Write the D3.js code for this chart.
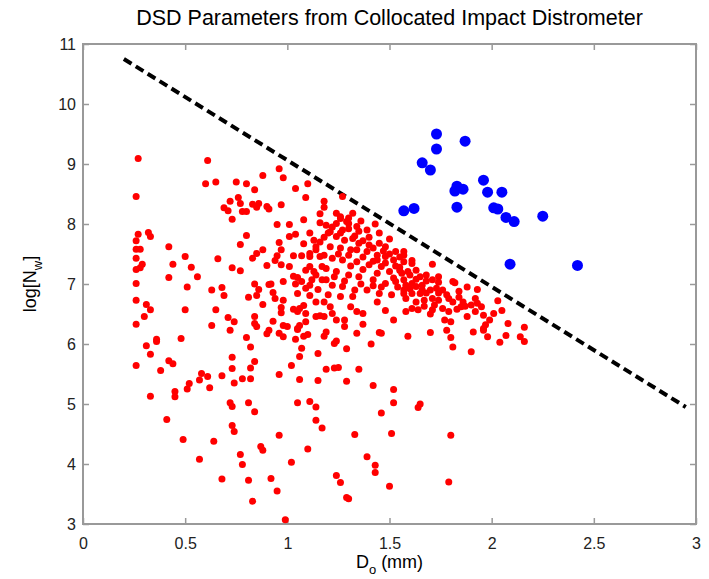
<!DOCTYPE html>
<html>
<head>
<meta charset="utf-8">
<script src="https://cdn.jsdelivr.net/npm/d3@7"></script>
<style>
body { margin: 0; background: #fff; }
text { font-family: "Liberation Sans", Arial, Helvetica, sans-serif; }
</style>
</head>
<body>
<div id="chart"></div>
<script>
// Basic setup
var width = 709,
    height = 579,
    margin = {top: 44, right: 13, bottom: 55, left: 83};

// Data: [D0 (mm), log Nw]
var redPoints = [
  [0.27,9.09],[0.26,8.46],[0.61,9.06],[0.60,8.67],[0.65,8.70],[0.75,8.70],[0.80,8.67],[0.88,8.81],[0.96,8.92],[0.98,8.77],
  [1.04,8.59],[1.10,8.67],[1.09,8.44],[0.84,8.57],[0.72,8.38],[0.76,8.44],[0.77,8.34],[0.69,8.27],[0.71,8.22],[0.73,8.08],
  [0.78,8.21],[0.80,8.21],[0.83,8.33],[0.86,8.34],[0.85,8.28],[0.91,8.25],[0.97,8.32],[1.18,8.38],[1.18,8.28],[1.16,8.17],
  [0.95,7.99],[1.01,7.99],[1.08,8.07],[1.16,8.02],[1.19,7.98],
  [0.27,7.83],[0.26,7.72],[0.32,7.86],[0.33,7.79],[0.26,7.58],[0.28,7.58],[0.26,7.43],[0.29,7.33],[0.28,7.27],[0.26,7.24],
  [0.26,7.01],[0.26,6.73],[0.31,6.66],[0.33,6.57],[0.30,6.46],[0.26,6.33],
  [0.42,7.62],[0.44,7.33],[0.42,7.11],[0.50,7.46],[0.53,7.28],[0.56,7.12],[0.51,6.95],[0.50,6.57],[0.66,7.42],[0.73,7.27],
  [0.77,7.22],[0.63,6.90],[0.68,6.94],[0.69,6.81],[0.65,6.57],[0.63,6.31],[0.71,6.44],[0.74,6.37],[0.72,6.23],
  [0.80,7.81],[0.77,7.66],[0.85,7.51],[0.83,7.43],[0.81,6.78],[0.84,7.00],[0.86,6.91],[0.85,6.81],[0.88,6.66],[0.84,6.46],
  [0.84,6.34],[0.90,7.31],[0.94,7.39],[0.95,7.47],[0.97,7.32],[0.96,7.69],[0.97,7.57],[1.01,7.79],[1.04,7.83],[1.03,7.47],
  [1.08,7.67],[1.11,7.85],
  [0.91,6.99],[0.92,7.00],[0.93,6.86],[0.94,6.76],[0.98,6.73],[0.97,6.61],[0.97,6.52],[0.93,6.38],[0.98,6.31],[1.03,7.13],
  [1.05,7.11],[1.04,7.00],[1.05,6.84],[1.07,7.04],[1.11,6.98],[1.11,6.81],[1.14,6.70],[1.15,6.91],[1.03,6.58],[1.08,6.64],
  [1.09,6.51],[1.09,6.37],[1.06,6.31],[1.05,6.24],[1.16,6.47],[1.18,6.46],[0.96,6.18],[0.91,6.23],[0.80,6.11],[0.48,6.09],
  [0.36,6.08],
  [1.11,7.29],[1.13,7.21],[1.14,7.15],[1.17,7.29],[1.18,7.48],[1.14,7.57],[1.16,7.70],[1.13,7.73],[1.11,7.51],[1.19,7.07],
  [1.20,7.85],
  [0.26,5.64],[0.31,5.97],[0.36,6.04],[0.33,5.83],[0.33,5.13],[0.38,5.56],[0.42,5.72],[0.44,5.67],[0.45,5.21],[0.45,5.12],
  [0.41,4.74],[0.51,5.25],[0.52,5.34],[0.57,5.40],[0.58,5.51],[0.61,5.46],[0.62,5.27],[0.68,5.47],[0.49,4.41],[0.57,4.08],
  [0.64,4.38],[0.68,3.75],[0.73,5.78],[0.73,5.59],[0.74,5.35],[0.72,5.02],[0.73,4.96],[0.73,4.64],[0.74,4.54],[0.77,4.16],
  [0.78,3.99],[0.81,3.73],[0.83,3.38],[0.78,5.42],[0.82,5.42],[0.82,5.60],[0.84,5.71],[0.82,5.95],[0.81,5.02],[0.84,4.87],
  [0.87,4.29],[0.88,4.23],[0.92,3.76],[0.95,3.55],[0.96,4.48],[0.96,5.49],[0.99,3.07],[1.02,4.03],[1.02,5.64],[1.05,5.02],
  [1.11,5.04],[1.14,4.95],[1.14,4.73],[1.17,4.60],[1.10,4.25],[1.06,5.41],[1.15,5.39],[1.15,5.84],[1.19,5.58],[1.06,5.79],
  [1.07,5.93],[1.04,6.08],[0.98,6.12],[0.90,6.17],[1.08,6.13],[1.10,6.16],[1.18,6.13],[1.23,6.01],[1.24,6.05],[1.29,5.92],
  [1.23,5.60],[1.25,5.61],[1.29,5.38],[1.35,5.58],[1.41,6.00],[1.46,6.18],[1.59,6.13],[1.70,6.19],[1.42,5.31],[1.52,5.24],
  [1.52,5.02],[1.46,4.85],[1.51,4.51],[1.64,4.94],[1.65,5.00],[1.33,4.49],[1.39,4.12],[1.43,3.98],[1.43,3.86],[1.24,3.81],
  [1.26,3.69],[1.29,3.44],[1.30,3.42],[1.50,3.63],
  [1.80,6.11],[1.81,5.95],[1.78,6.23],[1.91,6.20],[1.90,5.87],[1.98,6.12],[1.96,6.23],[2.04,6.03],[2.07,6.14],[2.14,6.12],
  [2.16,6.04],[1.80,4.48],[1.79,3.70],
  [1.57,7.48],[1.61,7.39],[1.71,7.33],[1.55,7.23],[1.59,7.21],[1.63,7.23],[1.65,7.12],[1.68,7.15],[1.57,7.07],[1.61,7.01],
  [1.66,6.98],[1.71,7.07],[1.74,7.12],[1.57,6.90],[1.61,6.84],[1.65,6.84],[1.70,6.90],[1.73,6.93],[1.76,6.90],[1.82,7.02],
  [1.93,6.91],[1.58,6.76],[1.63,6.70],[1.67,6.73],[1.71,6.76],[1.74,6.73],[1.79,6.76],[1.81,6.70],[1.85,6.62],[1.87,6.63],
  [1.92,6.76],[1.93,6.68],[1.61,6.59],[1.64,6.57],[1.71,6.57],[1.76,6.59],[1.79,6.54],[1.88,6.46],[1.92,6.54],[1.77,6.40],
  [1.80,6.37],[2.03,6.72],[2.05,6.56],[1.99,6.40],[1.97,6.32],[1.96,6.26],[2.08,6.34],[2.16,6.28],
  [1.24,8.18],[1.26,8.12],[1.32,8.18],[1.24,8.01],[1.30,8.01],[1.34,7.96],[1.39,7.90],[1.45,7.85],[1.21,7.87],[1.26,7.85],
  [1.28,7.73],[1.32,7.76],[1.35,7.68],[1.40,7.65],[1.45,7.68],[1.53,7.54],[1.57,7.54],[1.21,7.62],[1.26,7.60],[1.31,7.57],
  [1.34,7.57],[1.39,7.54],[1.44,7.48],[1.48,7.46],[1.52,7.40],[1.57,7.37],[1.61,7.34],[1.11,7.46],[1.16,7.46],[1.22,7.43],
  [1.27,7.40],[1.34,7.37],[1.40,7.32],[1.46,7.29],[1.50,7.21],[1.56,7.18],[1.60,7.15],[1.09,7.23],[1.19,7.26],[1.24,7.21],
  [1.30,7.15],[1.35,7.12],[1.42,7.07],[1.48,7.01],[1.53,7.04],[1.58,6.98],[1.63,6.96],[1.17,7.07],[1.22,6.98],[1.27,6.96],
  [1.33,6.90],[1.39,6.90],[1.45,6.84],[1.51,6.82],[1.57,6.84],[1.20,6.82],[1.26,6.79],
  [1.74,7.03],[1.81,7.04],[1.48,6.56],[1.52,6.40],[1.45,6.19],[1.37,6.33],[1.34,6.54],[1.28,6.40],[1.22,6.51],[1.19,6.20],
  [0.85,6.29],[1.06,6.59],[1.18,6.70],[1.09,6.93],[1.01,7.29],[0.88,7.57],[0.90,8.29],[1.96,6.48],[2.01,6.51],[1.58,6.54],
  [1.34,6.18],[1.28,6.29],[1.24,6.40],[1.37,6.51],[1.44,6.70],[1.32,6.79],[1.21,6.62],[1.31,6.62],
  [1.27,8.46],[1.26,8.09],[1.29,8.04],[1.27,7.90],[1.24,7.79],
  [1.07,7.47],[0.98,7.04],[1.00,6.29],[1.05,6.54],[1.05,6.26],[1.12,7.07],[1.14,6.46],
  [1.33,7.80],[1.37,7.72],[1.42,7.60],[1.47,7.55],[1.50,7.50],[1.55,7.45],[1.44,7.40],[1.37,7.45],[1.30,7.48],[1.25,7.50],
  [1.31,7.30],[1.37,7.24],[1.44,7.18],[1.52,7.10],[1.55,7.28],[1.63,7.08],[1.68,7.05],[1.66,6.90],[1.60,6.92],[1.54,6.95],
  [1.46,6.95],[1.42,6.97],[1.36,7.00],[1.28,7.05],[1.23,7.12],[1.42,7.38],[1.48,7.35],[1.53,7.30],[1.68,6.85],[1.74,6.85],
  [1.78,6.82],[1.84,6.78],[1.86,6.70],[1.90,6.65],[1.95,6.62],[1.84,6.88],[1.88,6.95],[1.72,6.65],[1.67,6.63],[1.83,6.58],
  [1.70,6.50],[1.35,7.88],[1.30,7.92],[1.40,7.78],[1.48,7.62],[1.36,8.05],[1.30,8.10],[1.22,7.95],[1.18,7.78],[1.14,7.62],
  [1.43,8.00],[1.50,7.75]
];

var bluePoints = [
  [1.73,9.50],[1.73,9.25],[1.87,9.38],[1.66,9.02],[1.70,8.90],[1.96,8.73],[1.83,8.63],[1.82,8.55],[1.86,8.58],[1.98,8.53],
  [2.05,8.53],[1.83,8.28],[2.01,8.27],[2.03,8.25],[1.57,8.22],[1.62,8.26],[2.07,8.11],[2.11,8.04],[2.25,8.13],[2.09,7.33],
  [2.42,7.31]
];

// dashed separation line, end points
var lineD0 = [0.2, 2.95];
var lineLogNw = [10.75, 4.95];

var xTicks = [0, 0.5, 1, 1.5, 2, 2.5, 3];
var xTickLabels = ["0", "0.5", "1", "1.5", "2", "2.5", "3"];
var yTicks = [3, 4, 5, 6, 7, 8, 9, 10, 11];

var svg = d3.select("#chart").append("svg")
    .attr("width", width)
    .attr("height", height);

var x = d3.scaleLinear()
    .domain([0, 3])
    .range([margin.left, width - margin.right]);

var y = d3.scaleLinear()
    .domain([3, 11])
    .range([height - margin.bottom, margin.top]);

var axisColor = "#999";

// Axes (MATLAB style: ticks inside, box all round)
var gx = svg.append("g")
    .attr("transform", "translate(0," + y(3) + ")")
    .call(d3.axisBottom(x).tickValues(xTicks)
      .tickFormat(function(d, i) { return xTickLabels[i]; })
      .tickSize(-6).tickPadding(14));

svg.append("g")
    .attr("transform", "translate(0," + y(11) + ")")
    .call(d3.axisTop(x).tickValues(xTicks).tickFormat("").tickSize(-6));

var gy = svg.append("g")
    .attr("transform", "translate(" + x(0) + ",0)")
    .call(d3.axisLeft(y).tickValues(yTicks).tickSize(-6).tickPadding(7));

svg.append("g")
    .attr("transform", "translate(" + x(3) + ",0)")
    .call(d3.axisRight(y).tickValues(yTicks).tickFormat("").tickSize(-6));

svg.selectAll(".domain").remove();
svg.selectAll(".tick line").attr("stroke", axisColor).attr("stroke-width", 1.5);
svg.selectAll(".tick text")
    .attr("fill", "#222")
    .style("font-size", "16px")
    .style("font-family", '"Liberation Sans", Arial, sans-serif');

svg.append("rect")
    .attr("x", x(0))
    .attr("y", y(11))
    .attr("width", x(3) - x(0))
    .attr("height", y(3) - y(11))
    .attr("fill", "none")
    .attr("stroke", axisColor)
    .attr("stroke-width", 2);

// Dashed line
svg.append("line")
    .attr("x1", x(lineD0[0]))
    .attr("y1", y(lineLogNw[0]))
    .attr("x2", x(lineD0[1]))
    .attr("y2", y(lineLogNw[1]))
    .attr("stroke", "#000")
    .attr("stroke-width", 4)
    .attr("stroke-dasharray", "9,5");

// Points
svg.append("g").selectAll("circle")
    .data(redPoints)
  .enter().append("circle")
    .attr("cx", function(d) { return x(d[0]); })
    .attr("cy", function(d) { return y(d[1]); })
    .attr("r", 3.5)
    .attr("fill", "#ff0000");

svg.append("g").selectAll("circle")
    .data(bluePoints)
  .enter().append("circle")
    .attr("cx", function(d) { return x(d[0]); })
    .attr("cy", function(d) { return y(d[1]); })
    .attr("r", 5.5)
    .attr("fill", "#0000ff");

// Title and axis labels
svg.append("text")
    .attr("x", (x(0) + x(3)) / 2)
    .attr("y", 25)
    .attr("text-anchor", "middle")
    .style("font-size", "21.5px")
    .attr("fill", "#000")
    .text("DSD Parameters from Collocated Impact Distrometer");

var xl = svg.append("text")
    .attr("x", (x(0) + x(3)) / 2)
    .attr("y", 568)
    .attr("text-anchor", "middle")
    .style("font-size", "18px")
    .attr("fill", "#000");
xl.append("tspan").text("D");
xl.append("tspan").attr("dy", 6).style("font-size", "13px").text("o");
xl.append("tspan").attr("dy", -6).text(" (mm)");

var yl = svg.append("text")
    .attr("transform", "translate(36," + y(7) + ") rotate(-90)")
    .attr("text-anchor", "middle")
    .style("font-size", "18px")
    .attr("fill", "#000");
yl.append("tspan").text("log[N");
yl.append("tspan").attr("dy", 6).style("font-size", "13px").text("w");
yl.append("tspan").attr("dy", -6).text("]");
</script>
</body>
</html>
